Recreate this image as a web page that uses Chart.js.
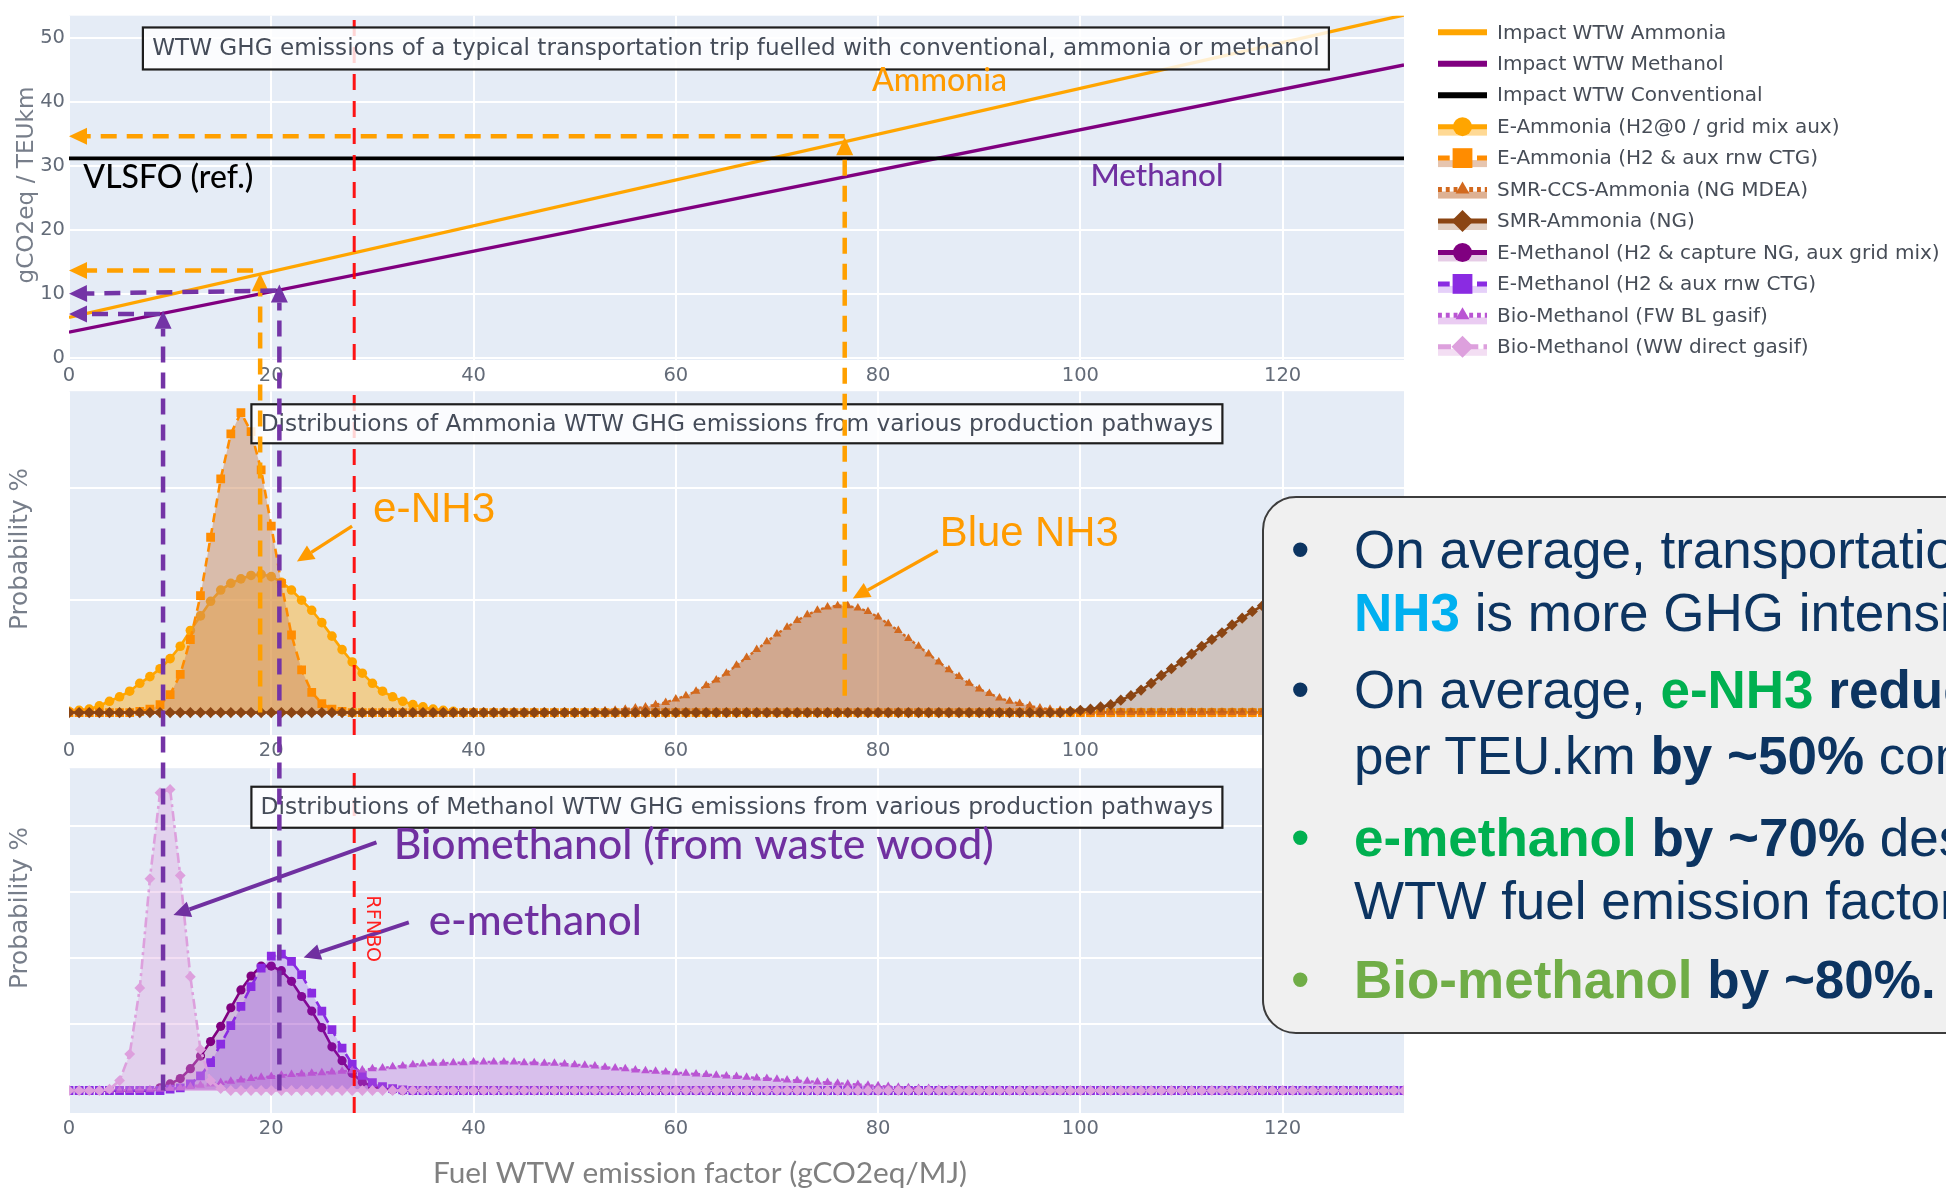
<!DOCTYPE html>
<html>
<head>
<meta charset="utf-8">
<title>WTW GHG emissions – ammonia and methanol pathways</title>
<script src="https://cdn.jsdelivr.net/npm/chart.js@4.4.1/dist/chart.umd.min.js"></script>
<style>
  html, body { margin: 0; padding: 0; background: #ffffff; width: 1946px; height: 1191px; overflow: hidden; }
  #page { position: relative; width: 1946px; height: 1191px; overflow: hidden; }
  #page canvas { position: absolute; left: 0; }
  #overlay { top: 0; pointer-events: none; }
  #notes {
    position: absolute; left: 1262px; top: 496px; width: 780px; height: 534px;
    border: 2px solid #3c3c3c; border-radius: 34px; background: #f0f0f0;
    font-family: 'Liberation Sans', Arial, sans-serif; font-size: 53px; color: #0c3461;
  }
  #notes .ln { position: absolute; left: 0; height: 60px; line-height: 60px; white-space: nowrap; }
  #notes .dot { position: absolute; left: 27px; }
  #notes .tx { position: absolute; left: 90px; }
  #notes .b { font-weight: bold; }
</style>
</head>
<body>
<div id="page">
  <canvas id="cTop" width="1946" height="385" style="top:0px"></canvas>
  <canvas id="cMid" width="1946" height="377" style="top:385px"></canvas>
  <canvas id="cBot" width="1946" height="429" style="top:762px"></canvas>
  <canvas id="overlay" width="1946" height="1191"></canvas>
  <div id="notes">
    <div class="ln" style="top:22px"><span class="dot">•</span><span class="tx">On average, transportation with Blue</span></div>
    <div class="ln" style="top:85px"><span class="tx"><span class="b" style="color:#00b0f0">NH3</span> is more GHG intensive</span></div>
    <div class="ln" style="top:162px"><span class="dot">•</span><span class="tx">On average, <span class="b" style="color:#00b050">e-NH3</span> <span class="b">reduces</span></span></div>
    <div class="ln" style="top:228px"><span class="tx">per TEU.km <span class="b">by ~50%</span> compared</span></div>
    <div class="ln" style="top:310px"><span class="dot" style="color:#00b050">•</span><span class="tx"><span class="b" style="color:#00b050">e-methanol</span> <span class="b">by ~70%</span> despite</span></div>
    <div class="ln" style="top:373px"><span class="tx">WTW fuel emission factor</span></div>
    <div class="ln" style="top:452px"><span class="dot" style="color:#70ad47">•</span><span class="tx"><span class="b" style="color:#70ad47">Bio-methanol</span> <span class="b">by ~80%.</span></span></div>
  </div>
</div>
<script>
// ---------------------------------------------------------------------------
// Data
// ---------------------------------------------------------------------------

// Fuel WTW emission factor axis (gCO2eq/MJ)
const X_TICKS = [0, 20, 40, 60, 80, 100, 120];
const TOP_Y_TICKS = [0, 10, 20, 30, 40, 50];
const MID_Y_GRID = [0, 1, 2];
const BOT_Y_GRID = [0, 1, 2, 3, 4];

// Transport-trip impact lines (gCO2eq / TEUkm) at both ends of the axis
const IMPACT_X = [0, 132];
const AMMONIA_IMPACT = [6.3, 53.55];
const METHANOL_IMPACT = [4.0, 45.75];
const CONVENTIONAL_IMPACT = [31.15, 31.15];

// RFNBO threshold (gCO2eq/MJ)
const RFNBO_LIMIT = 28.2;

// Emission-factor bins for the distributions
const BIN_X = [
  0,1,2,3,4,5,6,7,8,9, 10,11,12,13,14,15,16,17,18,19,
  20,21,22,23,24,25,26,27,28,29, 30,31,32,33,34,35,36,37,38,39,
  40,41,42,43,44,45,46,47,48,49, 50,51,52,53,54,55,56,57,58,59,
  60,61,62,63,64,65,66,67,68,69, 70,71,72,73,74,75,76,77,78,79,
  80,81,82,83,84,85,86,87,88,89, 90,91,92,93,94,95,96,97,98,99,
  100,101,102,103,104,105,106,107,108,109, 110,111,112,113,114,115,116,117,118,119,
  120,121,122,123,124,125,126,127,128,129, 130,131,132
];

// Ammonia pathways (probability %)
const E_NH3_GRID = [
  0.01,0.02,0.03,0.06,0.10,0.14,0.19,0.26,0.32,0.39,
  0.48,0.59,0.73,0.86,0.99,1.09,1.15,1.19,1.22,1.23,
  1.21,1.16,1.09,1.00,0.91,0.80,0.68,0.56,0.45,0.35,
  0.26,0.19,0.14,0.10,0.07,0.05,0.03,0.02,0.01,0,
  0,0,0,0,0,0,0,0,0,0, 0,0,0,0,0,0,0,0,0,0,
  0,0,0,0,0,0,0,0,0,0, 0,0,0,0,0,0,0,0,0,0,
  0,0,0,0,0,0,0,0,0,0, 0,0,0,0,0,0,0,0,0,0,
  0,0,0,0,0,0,0,0,0,0, 0,0,0,0,0,0,0,0,0,0,
  0,0,0,0,0,0,0,0,0,0, 0,0,0
];
const E_NH3_RNW = [
  0,0,0,0,0,0,0,0.01,0.03,0.07,
  0.16,0.34,0.65,1.04,1.56,2.08,2.48,2.67,2.50,2.16,
  1.66,1.15,0.69,0.38,0.18,0.08,0.03,0.01,0,0,
  0,0,0,0,0,0,0,0,0,0, 0,0,0,0,0,0,0,0,0,0,
  0,0,0,0,0,0,0,0,0,0, 0,0,0,0,0,0,0,0,0,0,
  0,0,0,0,0,0,0,0,0,0, 0,0,0,0,0,0,0,0,0,0,
  0,0,0,0,0,0,0,0,0,0, 0,0,0,0,0,0,0,0,0,0,
  0,0,0,0,0,0,0,0,0,0, 0,0,0,0,0,0,0,0,0,0,
  0,0,0
];
const SMR_CCS_NH3 = [
  0,0,0,0,0,0,0,0,0,0, 0,0,0,0,0,0,0,0,0,0,
  0,0,0,0,0,0,0,0,0,0, 0,0,0,0,0,0,0,0,0,0,
  0,0,0,0,0,0,0,0,0,0,
  0,0,0.01,0.015,0.02,0.03,0.04,0.05,0.07,0.09,
  0.12,0.15,0.19,0.24,0.29,0.35,0.42,0.49,0.56,0.63,
  0.70,0.76,0.82,0.87,0.91,0.94,0.95,0.95,0.93,0.90,
  0.85,0.79,0.73,0.66,0.59,0.52,0.45,0.38,0.32,0.26,
  0.21,0.17,0.13,0.10,0.08,0.06,0.04,0.03,0.02,0.01,
  0.01,0,0,0,0,0,0,0,0,0,
  0,0,0,0,0,0,0,0,0,0, 0,0,0,0,0,0,0,0,0,0,
  0,0,0
];
const SMR_NH3 = [
  0,0,0,0,0,0,0,0,0,0, 0,0,0,0,0,0,0,0,0,0,
  0,0,0,0,0,0,0,0,0,0, 0,0,0,0,0,0,0,0,0,0,
  0,0,0,0,0,0,0,0,0,0, 0,0,0,0,0,0,0,0,0,0,
  0,0,0,0,0,0,0,0,0,0, 0,0,0,0,0,0,0,0,0,0,
  0,0,0,0,0,0,0,0,0,0,
  0,0,0,0,0,0,0,0,0,0.01,
  0.02,0.03,0.05,0.07,0.11,0.15,0.20,0.26,0.33,0.39,
  0.45,0.52,0.59,0.65,0.71,0.78,0.84,0.90,0.95,1.00,
  1.06,1.11,1.16,1.20,1.25,1.29,1.33,1.36,1.39,1.42,
  1.44,1.46,1.48
];

// Methanol pathways (probability %)
const E_MEOH_NG = [
  0,0,0,0,0,0,0,0,0,0.04,
  0.10,0.18,0.33,0.52,0.74,0.97,1.25,1.52,1.73,1.88,
  1.88,1.81,1.65,1.42,1.20,0.95,0.66,0.45,0.26,0.13,
  0.06,0.03,0.01,0,0,0,0,0,0,0,
  0,0,0,0,0,0,0,0,0,0, 0,0,0,0,0,0,0,0,0,0,
  0,0,0,0,0,0,0,0,0,0, 0,0,0,0,0,0,0,0,0,0,
  0,0,0,0,0,0,0,0,0,0, 0,0,0,0,0,0,0,0,0,0,
  0,0,0,0,0,0,0,0,0,0, 0,0,0,0,0,0,0,0,0,0,
  0,0,0,0,0,0,0,0,0,0, 0,0,0
];
const E_MEOH_RNW = [
  0,0,0,0,0,0,0,0,0,0,
  0.02,0.04,0.10,0.22,0.42,0.70,0.98,1.27,1.57,1.85,
  2.03,2.06,1.95,1.75,1.47,1.20,0.92,0.64,0.40,0.23,
  0.12,0.06,0.03,0.01,0,0,0,0,0,0,
  0,0,0,0,0,0,0,0,0,0, 0,0,0,0,0,0,0,0,0,0,
  0,0,0,0,0,0,0,0,0,0, 0,0,0,0,0,0,0,0,0,0,
  0,0,0,0,0,0,0,0,0,0, 0,0,0,0,0,0,0,0,0,0,
  0,0,0,0,0,0,0,0,0,0, 0,0,0,0,0,0,0,0,0,0,
  0,0,0,0,0,0,0,0,0,0, 0,0,0
];
const BIO_MEOH_FW = [
  0,0,0,0,0,0,0,0,0.01,0.02,
  0.03,0.04,0.06,0.08,0.10,0.12,0.14,0.16,0.18,0.20,
  0.21,0.23,0.24,0.25,0.26,0.27,0.28,0.29,0.30,0.31,
  0.33,0.34,0.36,0.37,0.39,0.40,0.41,0.41,0.42,0.42,
  0.43,0.43,0.43,0.43,0.43,0.42,0.42,0.41,0.41,0.40,
  0.39,0.38,0.37,0.35,0.34,0.33,0.31,0.30,0.29,0.28,
  0.27,0.26,0.25,0.24,0.23,0.22,0.21,0.20,0.19,0.18,
  0.17,0.16,0.15,0.14,0.13,0.12,0.11,0.10,0.09,0.08,
  0.07,0.06,0.05,0.04,0.03,0.03,0.02,0.01,0.01,0,
  0,0,0,0,0,0,0,0,0,0, 0,0,0,0,0,0,0,0,0,0,
  0,0,0,0,0,0,0,0,0,0, 0,0,0,0,0,0,0,0,0,0,
  0,0,0
];
const BIO_MEOH_WW = [
  0,0,0,0,0.02,0.15,0.55,1.55,3.20,4.50,
  4.55,3.25,1.72,0.62,0.15,0.03,0,0,0,0,
  0,0,0,0,0,0,0,0,0,0, 0,0,0,0,0,0,0,0,0,0,
  0,0,0,0,0,0,0,0,0,0, 0,0,0,0,0,0,0,0,0,0,
  0,0,0,0,0,0,0,0,0,0, 0,0,0,0,0,0,0,0,0,0,
  0,0,0,0,0,0,0,0,0,0, 0,0,0,0,0,0,0,0,0,0,
  0,0,0,0,0,0,0,0,0,0, 0,0,0,0,0,0,0,0,0,0,
  0,0,0,0,0,0,0,0,0,0, 0,0,0
];

// ---------------------------------------------------------------------------
// Styles
// ---------------------------------------------------------------------------
const ORANGE_NOTE = '#ff9b00';
const PURPLE_NOTE = '#7030a0';
const GUIDE_ORANGE = '#ffa000';
const GUIDE_PURPLE = '#7434a6';
const PLOT_BG = '#e5ecf6';
const TICK_FONT = { family: 'DejaVu Sans', size: 19.5 };
const TICK_COLOR = '#636b78';

const S = {
  ammonia:   { name: 'Impact WTW Ammonia', color: '#ffa500', width: 3.3 },
  methanol:  { name: 'Impact WTW Methanol', color: '#800080', width: 3.3 },
  conv:      { name: 'Impact WTW Conventional', color: '#000000', width: 3.8 },
  nh3Grid:   { name: 'E-Ammonia (H2@0 / grid mix aux)', color: '#ffa500', width: 2.6, marker: 'circle', size: 4.8, legendSize: 9.5, fill: 'rgba(255,165,0,0.42)' },
  nh3Rnw:    { name: 'E-Ammonia (H2 & aux rnw CTG)', color: '#ff8c00', width: 2.6, dash: [9, 6], marker: 'rect', size: 6.2, legendSize: 14, fill: 'rgba(205,140,95,0.5)' },
  smrCcs:    { name: 'SMR-CCS-Ammonia (NG MDEA)', color: '#d2691e', width: 2.4, dash: [3, 3], marker: 'triangle', size: 5, legendSize: 8, fill: 'rgba(190,100,40,0.5)' },
  smr:       { name: 'SMR-Ammonia (NG)', color: '#8b4513', width: 2.6, marker: 'rectRot', size: 5.6, legendSize: 11, fill: 'rgba(139,69,19,0.25)' },
  meohNg:    { name: 'E-Methanol (H2 & capture NG, aux grid mix)', color: '#800080', width: 2.6, marker: 'circle', size: 4.6, legendSize: 9.5, fill: 'rgba(128,0,128,0.2)' },
  meohRnw:   { name: 'E-Methanol (H2 & aux rnw CTG)', color: '#8a2be2', width: 2.6, dash: [9, 6], marker: 'rect', size: 6.2, legendSize: 14, fill: 'rgba(138,43,226,0.22)' },
  bioFw:     { name: 'Bio-Methanol (FW BL gasif)', color: '#ba55d3', width: 2.4, dash: [3, 3], marker: 'triangle', size: 5, legendSize: 8, fill: 'rgba(186,85,211,0.3)' },
  bioWw:     { name: 'Bio-Methanol (WW direct gasif)', color: '#dda0dd', width: 2.6, dash: [10, 4, 3, 4], marker: 'rectRot', size: 5.4, legendSize: 11, fill: 'rgba(221,160,221,0.35)' }
};
const LEGEND_ORDER = ['ammonia', 'methanol', 'conv', 'nh3Grid', 'nh3Rnw', 'smrCcs', 'smr', 'meohNg', 'meohRnw', 'bioFw', 'bioWw'];

// Panel geometry on the page
const PAGE_RIGHT_PAD = 542;
const PANELS = {
  top: { canvas: 'cTop', offset: 0,   padTop: 10, xAxisH: 25, yMin: -0.35, yMax: 53.45, yTicks: TOP_Y_TICKS, showY: true },
  mid: { canvas: 'cMid', offset: 385, padTop: 2,  xAxisH: 27, yMin: -0.2,  yMax: 2.86,  yTicks: MID_Y_GRID, showY: false },
  bot: { canvas: 'cBot', offset: 762, padTop: 4,  xAxisH: 78, yMin: -0.34, yMax: 4.87,  yTicks: BOT_Y_GRID, showY: false }
};

// Annotations, placed in each panel's data coordinates
const NOTES = {
  top: {
    box: { text: 'WTW GHG emissions of a typical transportation trip fuelled with conventional, ammonia or methanol', x: 65.94, y: 48.33, textWidth: 1168, height: 42 },
    labels: [
      { text: 'VLSFO (ref.)', x: 1.42, y: 26.5, color: '#000000', family: 'Lato', weight: '500', width: 170 },
      { text: 'Ammonia', x: 79.4, y: 41.64, color: ORANGE_NOTE, family: 'Lato', weight: '500', width: 135 },
      { text: 'Methanol', x: 101.0, y: 26.9, color: PURPLE_NOTE, family: 'Lato', weight: '500', width: 133 }
    ],
    arrows: [],
    yTitle: { text: 'gCO2eq / TEUkm', cx: 27, cy: 185, width: 197 }
  },
  mid: {
    box: { text: 'Distributions of Ammonia WTW GHG emissions from various production pathways', x: 66.04, y: 2.57, textWidth: 953, height: 39 },
    labels: [
      { text: 'e-NH3', x: 30.07, y: 1.695, color: ORANGE_NOTE, family: 'Liberation Sans', weight: 'normal', width: 122 },
      { text: 'Blue NH3', x: 86.1, y: 1.484, color: ORANGE_NOTE, family: 'Liberation Sans', weight: 'normal', width: 179 }
    ],
    arrows: [
      { from: [27.99, 1.66], to: [22.54, 1.344], color: ORANGE_NOTE, width: 3.3 },
      { from: [85.9, 1.44], to: [77.5, 1.016], color: ORANGE_NOTE, width: 3.3 }
    ],
    yTitle: { text: 'Probability %', cx: 21, cy: 549, width: 162 }
  },
  bot: {
    box: { text: 'Distributions of Methanol WTW GHG emissions from various production pathways', x: 66.04, y: 4.28, textWidth: 953, height: 41 },
    labels: [
      { text: 'Biomethanol (from waste wood)', x: 32.1, y: 3.5, color: PURPLE_NOTE, family: 'Lato', weight: '500', width: 600 },
      { text: 'e-methanol', x: 35.57, y: 2.35, color: PURPLE_NOTE, family: 'Lato', weight: '500', width: 213 }
    ],
    arrows: [
      { from: [30.4, 3.75], to: [10.33, 2.65], color: PURPLE_NOTE, width: 4 },
      { from: [33.6, 2.54], to: [23.2, 2.01], color: PURPLE_NOTE, width: 4 }
    ],
    vertical: { text: 'RFNBO', x: 29.95, y: 2.95, width: 67, color: '#ff2020' },
    yTitle: { text: 'Probability %', cx: 21, cy: 908, width: 162 },
    xTitle: { text: 'Fuel WTW emission factor (gCO2eq/MJ)', cx: 700, cy: 1173, width: 534 }
  }
};

// Dashed read-off guides: from a distribution peak up to the impact line, then across to the y axis
const GUIDES = [
  { color: GUIDE_ORANGE, x: 76.7, from: ['mid', 0.15], tipY: 34.45, h: [[76.7, 34.63], [0, 34.63]] },
  { color: GUIDE_ORANGE, x: 18.9, from: ['mid', 0.0],  tipY: 13.2,  h: [[18.2, 13.63], [0, 13.63]] },
  { color: GUIDE_PURPLE, x: 20.8, from: ['bot', 0.0],  tipY: 11.43, h: [[20.5, 10.5], [0, 9.99]] },
  { color: GUIDE_PURPLE, x: 9.3,  from: ['bot', 0.0],  tipY: 7.36,  h: [[9.0, 6.85], [0, 6.82]] }
];

// ---------------------------------------------------------------------------
// Helpers
// ---------------------------------------------------------------------------
function fitFont(ctx, text, family, weight, width) {
  ctx.font = `${weight} 100px '${family}'`;
  const w = ctx.measureText(text).width;
  return `${weight} ${(100 * width / w).toFixed(2)}px '${family}'`;
}

function drawArrow(ctx, x0, y0, x1, y1, color, width, head, halfW, dash) {
  const a = Math.atan2(y1 - y0, x1 - x0);
  const bx = x1 - head * Math.cos(a), by = y1 - head * Math.sin(a);
  ctx.save();
  ctx.strokeStyle = color; ctx.fillStyle = color; ctx.lineWidth = width;
  ctx.setLineDash(dash || []);
  ctx.beginPath(); ctx.moveTo(x0, y0); ctx.lineTo(bx, by); ctx.stroke();
  ctx.setLineDash([]);
  ctx.beginPath();
  ctx.moveTo(x1, y1);
  ctx.lineTo(bx + halfW * Math.sin(a), by - halfW * Math.cos(a));
  ctx.lineTo(bx - halfW * Math.sin(a), by + halfW * Math.cos(a));
  ctx.closePath(); ctx.fill();
  ctx.restore();
}

function curve(style, xs, ys, order) {
  return {
    label: style.name,
    data: xs.map((x, i) => ({ x, y: ys[i] })),
    borderColor: style.color,
    borderWidth: style.width,
    borderDash: style.dash || [],
    backgroundColor: style.fill || 'transparent',
    fill: style.fill ? 'origin' : false,
    pointStyle: style.marker || 'circle',
    pointRadius: style.marker ? style.size : 0,
    pointBackgroundColor: style.color,
    pointBorderColor: style.color,
    pointBorderWidth: 0,
    tension: 0,
    order
  };
}

function rfnboLine(p) {
  return {
    label: 'RFNBO',
    data: [{ x: RFNBO_LIMIT, y: p.yMin }, { x: RFNBO_LIMIT, y: p.yMax }],
    borderColor: 'rgba(255,0,0,0.92)', borderWidth: 3, borderDash: [16, 11],
    pointRadius: 0, fill: false, order: -10
  };
}

const plotBg = {
  id: 'plotBg',
  beforeDraw(chart) {
    const { ctx, chartArea: a } = chart;
    ctx.save();
    ctx.fillStyle = PLOT_BG;
    ctx.fillRect(a.left, a.top, a.right - a.left, a.bottom - a.top);
    ctx.restore();
  }
};

function notesPlugin(key) {
  const n = NOTES[key];
  const off = PANELS[key].offset;
  return {
    id: 'notes_' + key,
    afterDatasetsDraw(chart) {
      const { ctx } = chart;
      const xs = chart.scales.x, ys = chart.scales.y;
      // caption box
      const b = n.box;
      ctx.save();
      ctx.font = fitFont(ctx, b.text, 'DejaVu Sans', 'normal', b.textWidth);
      const cx = xs.getPixelForValue(b.x), cy = ys.getPixelForValue(b.y);
      const w = b.textWidth + 18;
      ctx.fillStyle = 'rgba(255,255,255,0.82)';
      ctx.fillRect(cx - w / 2, cy - b.height / 2, w, b.height);
      ctx.strokeStyle = '#1e1e1e'; ctx.lineWidth = 2.2;
      ctx.strokeRect(cx - w / 2, cy - b.height / 2, w, b.height);
      ctx.fillStyle = '#454c59'; ctx.textAlign = 'center'; ctx.textBaseline = 'middle';
      ctx.fillText(b.text, cx, cy + 1);
      ctx.restore();
      // pointer arrows
      n.arrows.forEach(a => {
        drawArrow(ctx, xs.getPixelForValue(a.from[0]), ys.getPixelForValue(a.from[1]),
                  xs.getPixelForValue(a.to[0]), ys.getPixelForValue(a.to[1]),
                  a.color, a.width, 17, 8);
      });
      // text labels
      n.labels.forEach(l => {
        ctx.save();
        ctx.font = fitFont(ctx, l.text, l.family, l.weight, l.width);
        ctx.fillStyle = l.color; ctx.textAlign = 'left'; ctx.textBaseline = 'alphabetic';
        ctx.fillText(l.text, xs.getPixelForValue(l.x), ys.getPixelForValue(l.y));
        ctx.restore();
      });
      if (n.vertical) {
        const v = n.vertical;
        ctx.save();
        ctx.font = fitFont(ctx, v.text, 'DejaVu Sans', 'normal', v.width);
        ctx.translate(xs.getPixelForValue(v.x), ys.getPixelForValue(v.y));
        ctx.rotate(Math.PI / 2);
        ctx.fillStyle = v.color; ctx.textAlign = 'left'; ctx.textBaseline = 'middle';
        ctx.fillText(v.text, 0, 0);
        ctx.restore();
      }
    },
    afterDraw(chart) {
      const { ctx } = chart;
      const t = n.yTitle;
      ctx.save();
      ctx.font = fitFont(ctx, t.text, 'DejaVu Sans', 'normal', t.width);
      ctx.translate(t.cx, t.cy - off);
      ctx.rotate(-Math.PI / 2);
      ctx.fillStyle = '#777e8a'; ctx.textAlign = 'center'; ctx.textBaseline = 'middle';
      ctx.fillText(t.text, 0, 0);
      ctx.restore();
      if (n.xTitle) {
        const x = n.xTitle;
        ctx.save();
        ctx.font = fitFont(ctx, x.text, 'Lato', 'normal', x.width);
        ctx.fillStyle = '#808080'; ctx.textAlign = 'center'; ctx.textBaseline = 'middle';
        ctx.fillText(x.text, x.cx, x.cy - off);
        ctx.restore();
      }
    }
  };
}

// Legend drawn at the right of the top panel
const legendPlugin = {
  id: 'sideLegend',
  afterDraw(chart) {
    const { ctx } = chart;
    const x0 = 1438, x1 = 1487, tx = 1497, y0 = 32.3, step = 31.45;
    const font = fitFont(ctx, S.meohNg.name, 'DejaVu Sans', 'normal', 443);
    LEGEND_ORDER.forEach((k, i) => {
      const s = S[k];
      const y = y0 + i * step;
      ctx.save();
      if (s.fill) {
        ctx.fillStyle = s.fill;
        ctx.fillRect(x0, y + 2, x1 - x0, 7);
      }
      ctx.strokeStyle = s.color;
      ctx.lineWidth = s.marker ? 5 : 6;
      ctx.setLineDash(s.dash ? s.dash.map(d => d * 1.3) : []);
      ctx.beginPath(); ctx.moveTo(x0, y); ctx.lineTo(x1, y); ctx.stroke();
      ctx.setLineDash([]);
      if (s.marker) {
        ctx.fillStyle = s.color;
        Chart.helpers.drawPoint(ctx, { pointStyle: s.marker, radius: s.legendSize, rotation: 0, borderWidth: 0 }, (x0 + x1) / 2, y);
      }
      ctx.font = font; ctx.fillStyle = '#474d57';
      ctx.textAlign = 'left'; ctx.textBaseline = 'middle';
      ctx.fillText(s.name, tx, y + 1);
      ctx.restore();
    });
  }
};

function panelOptions(p) {
  return {
    responsive: false,
    animation: false,
    devicePixelRatio: 1,
    events: [],
    layout: { padding: { top: p.padTop, right: PAGE_RIGHT_PAD, bottom: 0, left: 0 } },
    plugins: { legend: { display: false }, tooltip: { enabled: false } },
    scales: {
      x: {
        type: 'linear', min: 0, max: 132,
        afterBuildTicks(scale) { scale.ticks = X_TICKS.map(v => ({ value: v })); },
        afterFit(scale) { scale.height = p.xAxisH; },
        grid: { color: '#ffffff', lineWidth: 2, drawTicks: false },
        border: { display: false },
        ticks: { padding: 4, font: TICK_FONT, color: TICK_COLOR, maxRotation: 0, autoSkip: false }
      },
      y: {
        type: 'linear', min: p.yMin, max: p.yMax,
        afterBuildTicks(scale) { scale.ticks = p.yTicks.map(v => ({ value: v })); },
        afterFit(scale) { scale.width = 69; },
        grid: { color: '#ffffff', lineWidth: 2, drawTicks: false },
        border: { display: false },
        ticks: { display: p.showY, padding: 4, font: TICK_FONT, color: TICK_COLOR }
      }
    }
  };
}

// ---------------------------------------------------------------------------
// Panels
// ---------------------------------------------------------------------------
const charts = {};

charts.top = new Chart(document.getElementById('cTop'), {
  type: 'line',
  data: {
    datasets: [
      curve(S.ammonia, IMPACT_X, AMMONIA_IMPACT, 3),
      curve(S.methanol, IMPACT_X, METHANOL_IMPACT, 2),
      curve(S.conv, IMPACT_X, CONVENTIONAL_IMPACT, 1),
      rfnboLine(PANELS.top)
    ]
  },
  options: panelOptions(PANELS.top),
  plugins: [plotBg, notesPlugin('top'), legendPlugin]
});

charts.mid = new Chart(document.getElementById('cMid'), {
  type: 'line',
  data: {
    datasets: [
      curve(S.nh3Grid, BIN_X, E_NH3_GRID, 4),
      curve(S.nh3Rnw, BIN_X, E_NH3_RNW, 3),
      curve(S.smrCcs, BIN_X, SMR_CCS_NH3, 2),
      curve(S.smr, BIN_X, SMR_NH3, 1),
      rfnboLine(PANELS.mid)
    ]
  },
  options: panelOptions(PANELS.mid),
  plugins: [plotBg, notesPlugin('mid')]
});

charts.bot = new Chart(document.getElementById('cBot'), {
  type: 'line',
  data: {
    datasets: [
      curve(S.meohNg, BIN_X, E_MEOH_NG, 4),
      curve(S.meohRnw, BIN_X, E_MEOH_RNW, 3),
      curve(S.bioFw, BIN_X, BIO_MEOH_FW, 2),
      curve(S.bioWw, BIN_X, BIO_MEOH_WW, 1),
      rfnboLine(PANELS.bot)
    ]
  },
  options: panelOptions(PANELS.bot),
  plugins: [plotBg, notesPlugin('bot')]
});

// ---------------------------------------------------------------------------
// Guides spanning the panels
// ---------------------------------------------------------------------------
function pageY(panel, v) {
  return charts[panel].scales.y.getPixelForValue(v) + PANELS[panel].offset;
}
function drawGuides() {
  const ctx = document.getElementById('overlay').getContext('2d');
  const xs = charts.top.scales.x;
  const dash = [16, 10];
  GUIDES.forEach(g => {
    const px = xs.getPixelForValue(g.x);
    drawArrow(ctx, px, pageY(g.from[0], g.from[1]), px, pageY('top', g.tipY), g.color, 4.5, 18, 8.5, dash);
    drawArrow(ctx, xs.getPixelForValue(g.h[0][0]), pageY('top', g.h[0][1]),
              xs.getPixelForValue(g.h[1][0]), pageY('top', g.h[1][1]), g.color, 4.5, 18, 8.5, dash);
  });
}
drawGuides();
</script>
</body>
</html>
